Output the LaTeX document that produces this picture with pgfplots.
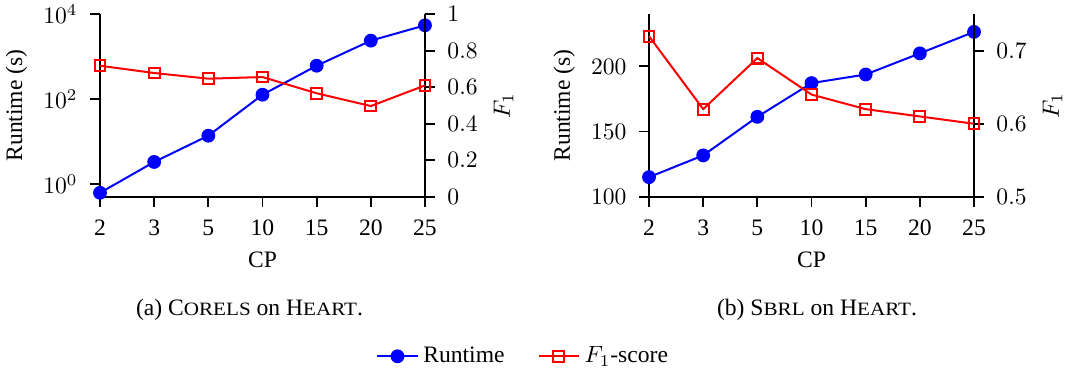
\documentclass[border=0pt]{standalone}
\usepackage{pgfplots}
\usepackage{pgfplotstable}
\usepackage{graphicx}
\pgfplotsset{compat=1.18}
\usepackage{fontspec}
\setmainfont{Liberation Serif}
\newcommand{\fsc}[1]{\scalebox{1.12}[1]{\fontsize{8pt}{9pt}\selectfont #1}}

\pgfplotstableread{
x rt f1
0 0.63 0.718
1 3.35 0.678
2 13.9 0.647
3 128 0.656
4 617 0.567
5 2400 0.497
6 5500 0.610
}\corels

\pgfplotstableread{
x rt f1
0 115.0 0.720
1 131.7 0.620
2 161.3 0.690
3 187.2 0.640
4 193.8 0.620
5 210.0 0.610
6 226.5 0.600
}\sbrl

\pgfplotsset{
  base/.style={
    scale only axis, width=137.8pt, height=77.34pt,
    xmin=0, xmax=6, clip=false, tick align=outside,
    axis line style={-, line width=0.8pt},
    every tick/.style={black, line width=0.8pt},
    major tick length=4.2pt,
    xticklabel shift=2pt, yticklabel shift=1.8pt,
    yminorticks=false, xminorticks=false,
  },
  rtplot/.style={blue, line width=0.85pt, mark=*, mark size=2.5pt, mark options={solid, fill=blue}},
  f1plot/.style={red, line width=0.85pt, mark=square, mark size=2.3pt, mark options={solid, line width=0.85pt}},
}

\begin{document}
\begin{tikzpicture}
\useasboundingbox (0,0) rectangle (458.34pt,-157.73pt);
% ---------- (a) ----------
\begin{axis}[base, at={(42.4pt,-83.4pt)}, anchor=south west,
  axis y line*=left, axis x line*=bottom,
  ymode=log, ymin=0.51, ymax=10000, ytick={1,100,10000},
  xtick={0,...,6}, xticklabels={2,3,5,10,15,20,25},
  xlabel={CP}, ylabel={Runtime (s)}]
\addplot[rtplot] table[x=x, y=rt] {\corels};
\end{axis}
\begin{axis}[base, at={(42.4pt,-83.4pt)}, anchor=south west,
  axis y line*=right, axis x line=none,
  ymin=0, ymax=1, ytick={0,0.2,...,1},
  ylabel={$F_1$}]
\addplot[f1plot] table[x=x, y=f1] {\corels};
\end{axis}
% ---------- (b) ----------
\begin{axis}[base, at={(275.18pt,-83.4pt)}, anchor=south west,
  axis y line*=left, axis x line*=bottom,
  ymin=100, ymax=240, ytick={100,150,200},
  xtick={0,...,6}, xticklabels={2,3,5,10,15,20,25},
  xlabel={CP}, ylabel={Runtime (s)}]
\addplot[rtplot] table[x=x, y=rt] {\sbrl};
\end{axis}
\begin{axis}[base, at={(275.18pt,-83.4pt)}, anchor=south west,
  axis y line*=right, axis x line=none,
  ymin=0.5, ymax=0.75, ytick={0.5,0.6,0.7},
  yticklabel style={/pgf/number format/.cd, fixed, fixed zerofill, precision=1},
  ylabel={$F_1$},
  legend style={at={(-0.383,-0.875)}, anchor=center, draw=none, fill=none,
    legend columns=2, font=\normalsize,
    /tikz/every even column/.append style={column sep=12pt}}]
\addlegendimage{rtplot}
\addlegendentry{Runtime}
\addplot[f1plot] table[x=x, y=f1] {\sbrl};
\addlegendentry{$F_1$-score}
\end{axis}
\node at (105.8pt,-131.4pt) {(a) C\fsc{ORELS} on H\fsc{EART}.};
\node at (346.4pt,-131.4pt) {(b) S\fsc{BRL} on H\fsc{EART}.};
\end{tikzpicture}
\end{document}
